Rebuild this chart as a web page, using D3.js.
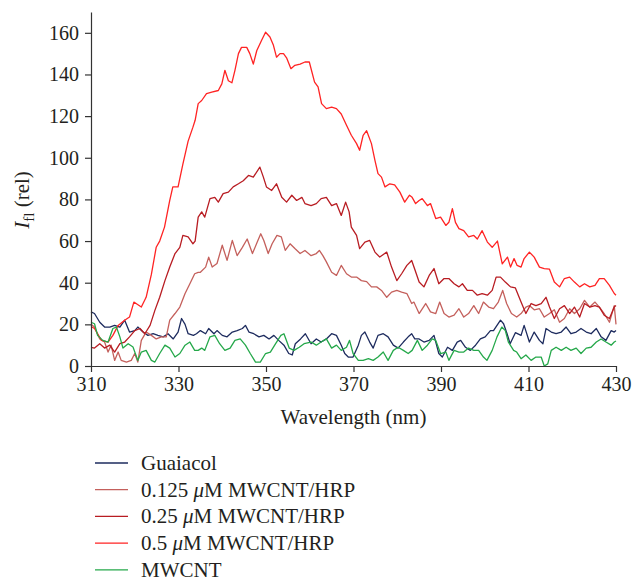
<!DOCTYPE html>
<html>
<head>
<meta charset="utf-8">
<script src="https://cdn.jsdelivr.net/npm/d3@7"></script>
<style>
  body { margin: 0; background: #fff; }
  svg text { font-family: "Liberation Serif", "DejaVu Serif", serif; fill: #231f20; }
</style>
</head>
<body>
<div id="chart"></div>
<script>
var width = 633, height = 577;

// wavelength (nm) / intensity pairs
var wlGuaiacol = [310,310.8,312,313.1,314.3,315.4,316.6,317.7,318.8,320,320.7,321.9,323,324.2,325.3,326.5,327.6,328.8,329.9,330.7,331.5,332.2,333.4,334.1,335,336.2,336.9,338.1,338.8,340,341.1,342.3,343.4,344.6,345.3,346.1,347.2,348.4,349.5,350.7,351.8,352.9,354.1,355.2,356,356.7,357.9,359,360.3,361.5,362.6,363.8,365,366.1,367.2,368,368.8,369.9,371.1,371.8,372.6,373.7,374.5,375.6,376.8,377.9,379.1,380.2,381.4,382.5,383.3,384,385,386.1,387.3,388.4,389.5,390.3,391.5,392.6,393.7,394.5,395.6,396.7,397.9,399,400.1,401.3,402,402.8,403.6,404.3,405.1,405.8,407,408.3,409,410.2,411.3,412.5,413.3,414,415.2,416.3,417.5,418.6,419.7,420.9,422,423.2,424.3,425.5,426.6,427.7,428.9,429.6,430];
var valGuaiacol = [26,25.2,21,18.7,18.7,19.5,18.7,22,16.3,17,18.7,16.3,14.7,15.5,14.7,14,15.5,13,16.3,22.8,20,15.5,14.7,15.5,17,15.5,18,15.5,17,14.7,14,16.3,17,18,19.5,16.3,15.5,14,14.7,13,14.7,12.3,10,6,5.3,10.7,13,15.5,10.7,13,11.5,13,15.5,14.7,10,6,4.3,4.3,10,14.7,16.3,11.5,8.6,14.7,15.5,14,10,8.6,11.5,14,15.5,13,13,11.5,12.3,14.7,6,4.3,9,7.5,11.5,12.3,9,7.5,10,13,14,17,17,19.5,22,20.3,15.5,10.7,16,14.7,19.5,11.5,16.3,12.3,10.7,18,16.3,15.5,16.3,18.7,15.5,16.3,18,16.3,15.5,18,14,12.3,17,16.3,17];

var wl0125 = [310,310.8,312,313.1,313.9,314.6,315.4,316.2,316.9,318.1,319.2,320,320.7,321.5,322.6,323.8,324.9,326.1,327.2,328,329.2,330.3,331.5,332.6,333.7,334.5,335,336.2,336.9,337.7,338.8,340,341.1,342.3,343.4,344.6,345.7,346.9,348,348.8,349.5,350.5,351.4,352.5,353.5,354.4,355.5,356.6,357.8,358.9,360.3,361.5,362.2,363,363.8,365,366.1,367.2,368.4,369.5,370.7,371.8,373,374.1,375.3,376.4,377.6,378.7,379.9,381,382.2,383.3,383.8,385,386.5,387.6,388.8,389.7,390.7,391.8,393,394.1,395.2,396.3,397.5,398.6,399.7,400.9,402,403.1,404.1,405,406.1,407.3,408.3,409.4,410.2,411.3,412.5,413.6,414.8,415.9,417.1,418.2,419.4,420.5,421.7,422.8,424,425.2,426.2,427.3,428.5,429.6,430];
var val0125 = [20,18.7,13,11.5,6.7,10,2.7,6.7,2.7,1.9,2.7,6,1.9,12.3,16.3,14.7,13,14,14,22,25.2,28.3,34.8,39.5,44.3,45,45,47.5,52.3,47.5,49.2,58,50.7,60.3,53,57,61,54,59.5,63.5,60.3,54,58.7,62.7,62,55.5,58.7,56.4,54,55.5,53,54,55.5,53,50,45,43.5,48.3,44.3,42.7,42.7,41,40.5,38,38,36.3,33,35.5,36.3,35.5,34.8,30,30.7,25.2,30,26,25.2,30.7,25.2,23.5,24.4,27.5,23.5,25.2,29,25.2,30.7,28.3,27.5,30.7,36.3,30,25.2,23.5,25.2,28.3,29,27,27.5,23.5,25.2,27,21,22.8,27.5,25.2,27.5,31.5,28.3,30.7,28.3,25.2,21,29,20];

var wl025 = [310,310.8,312,313.1,314.3,315.4,316.6,317.7,318.8,320,321.2,322.3,323.5,324.6,325.7,326.9,328,329.2,330.3,331,332.2,333.3,333.8,334.5,335.3,336,337.2,338.3,339.1,340.2,341.4,342.5,343.7,344.8,346,347.1,348.6,349.4,350.1,351.3,352.4,353.6,354.7,355.9,357,358.2,358.9,360.3,361.5,362.6,363.8,365,366.1,367.2,368.2,369,369.5,370.7,371.4,372.6,373.7,374.9,376,377.6,378.7,379.9,381,382.2,383.3,384,385,386.1,387.3,388.4,389.5,390.7,391.8,393,394.1,394.9,396,397.2,398.3,399.4,400.6,401.7,402.6,403.6,404.7,405.9,407,408.3,409.4,410.6,411.7,412.9,414,414.8,415.9,417.1,418.2,419.4,420.5,421.7,422.8,424,425.2,426.2,427.3,428.5,429.6,430];
var val025 = [9,8.6,10.7,8.6,10,6.7,10.7,11.5,14,17,18,15.5,19.5,26.7,33,41,47.5,54,57,62.7,62,58.7,60,71.5,74,71.5,80.4,81,78.7,82.8,83.5,86,87.5,89,91.5,90.7,95.5,90.7,86,84.3,87.5,81,78.7,82,79.5,81,78,77,78,80.4,81,77,78,72.3,78.7,74,66.7,62.7,56.4,59.5,60.3,54.7,52.3,54.7,47.5,41,44.3,48.3,50.7,46.5,40.3,38,43.5,46.8,39.5,42,42,39.5,38,39.5,36.3,36.3,34,34.8,34,36.3,42.7,42.7,40.3,38,37.5,30.7,25.2,30,29,30,33,28.3,22.8,27.5,29,25.2,28.3,23.5,30,28.3,29,28.3,24.4,22.8,28.3,29];

var wl05 = [310,310.8,312.4,313.9,315,316.2,317.7,318.8,319.8,321.5,322.6,323.8,324.9,325.7,326.8,328,328.7,329.9,331,332.2,333.3,333.8,334.5,335.3,336.4,337.6,339.1,339.9,340.6,341.4,342.2,342.9,343.7,344.4,345.6,346.3,347.1,347.9,349,349.9,350.9,351.7,352.4,353.2,354,354.7,355.7,356.6,357.8,358.9,359.9,361.1,361.9,362.7,363.8,365,366.1,367.2,368.4,369.5,370.7,371.4,372.2,373,374.1,374.9,375.6,376.4,377.2,378.3,379.4,380.6,381.7,382.8,383.4,384.2,385,385.7,386.9,387.6,388.8,389.9,391.1,391.8,392.6,393.3,394.1,395.2,396.3,397.5,398.3,399.4,400.6,401.7,402.9,404,405.2,405.9,406.7,407.4,408.3,409,410.2,411.3,412.5,413.6,414.8,415.9,417.1,418.2,419.4,420.5,421.7,422.8,424,425.2,426.2,427.3,428.5,429.6,430];
var val05 = [19,18,12.3,11.5,14.7,19.5,22,23.5,30.7,28.3,33,44,57,60,66.7,79.5,86,86,97,108,114.7,118,126,127.5,130.8,131.5,132.3,135.5,142,137,136,142,150,153,153,150,145,151.5,156.4,160.3,158,154,148.3,150,150,148,142.8,144.4,145,146,146,136.3,134,126,123.6,124.3,123.6,121,115.6,110.8,106.8,103.6,110.8,113,106.8,98.8,92.4,90.7,86,87.5,87,83.5,78.7,82,81,78,79.5,80.4,77,78,70.8,71.5,67.5,69,75.6,69,66,65,62,62.7,61,65,59.5,57,60,49,52.3,47.5,51.6,48.3,47.5,51.6,54.7,52.3,47.5,46.8,46.5,40.3,38,42,42.7,40.3,38,39.5,38,38.7,42,42,38.7,34.8,34];

var wlMwcnt = [310,310.8,311.5,312.7,313.9,315,315.8,316.6,317.3,318.5,319.6,320.7,321.5,322.6,323.8,324.6,325.7,326.9,328,329.2,330.3,331.5,332.6,333.7,334.5,335.3,336,337.2,338.3,339.4,340.6,341.8,342.9,344.1,345.3,346.4,347.6,348.7,349.9,351,352.2,353.4,354.1,355.3,356.4,357.6,358.7,360.3,361.5,362.6,363.8,365,366.1,367.2,368.4,369.1,369.9,371.1,372.2,373.4,374.5,375.6,376.8,377.9,379.1,380.2,381.4,382.5,383.4,384.6,385.7,386.9,388,388.8,389.9,391.1,391.8,393,394.1,395.2,396.3,397.5,398.6,399.7,400.5,401.7,402.8,403.9,404.7,405.4,406.6,407.3,408.3,409.4,410.6,411.7,412.9,413.6,414.4,415.2,416.3,417.5,418.6,419.7,420.9,422,423.2,424.3,425.5,426.6,427.7,428.9,429.6,430];
var valMwcnt = [21,20.3,14.7,12.3,11.5,18,18.7,14,8.6,10.7,9.1,2.7,6.7,7.5,2.7,1.9,6,10,8.6,4.3,6,10,11.5,7.5,7.5,8.6,7.5,14,14.7,10.7,7.5,8.6,12.3,13,10,6,1.9,1.9,6,6.7,10.7,14.7,15.5,8.6,7.5,9,10.7,11.5,10,11.5,13,8.6,10,7.5,9,12.3,6,2.7,2.7,3.5,2.7,4.3,6.7,2.7,7.5,9,7.5,6,7.5,12.3,7.5,10,13,12.3,6,6.7,2.7,7.5,6.7,6.7,8.6,7.5,7.5,4.3,2.7,7.5,14,18.7,17,11.5,7.5,6.7,3.5,5.3,2.7,4.3,4.3,0,1,7.5,9,7.5,9,7.5,8.6,6,8.6,9,11.5,13,11.5,10,11.5,12];

var seriesNames = ["Guaiacol", "0.125 \u03bcM MWCNT/HRP", "0.25 \u03bcM MWCNT/HRP", "0.5 \u03bcM MWCNT/HRP", "MWCNT"];
var seriesColors = ["#1d2b5e", "#c4605c", "#b81c22", "#ff2323", "#25a84a"];
var seriesX = [wlGuaiacol, wl0125, wl025, wl05, wlMwcnt];
var seriesY = [valGuaiacol, val0125, val025, val05, valMwcnt];

var xTicks = [310, 330, 350, 370, 390, 410, 430];
var yTicks = [0, 20, 40, 60, 80, 100, 120, 140, 160];

var margin = {left: 91, top: 12};
var plotW = 525, plotH = 354;

var svg = d3.select("#chart").append("svg")
    .attr("width", width)
    .attr("height", height);

var x = d3.scaleLinear().domain([310, 430]).range([margin.left, margin.left + plotW]);
var y = d3.scaleLinear().domain([0, 170]).range([margin.top + plotH, margin.top]);

var line = d3.line()
    .x(function(d) { return x(d[0]); })
    .y(function(d) { return y(d[1]); });

// lines
var lines = svg.append("g");
seriesNames.forEach(function(name, i) {
    var pts = seriesX[i].map(function(w, j) { return [w, seriesY[i][j]]; });
    lines.append("path")
        .datum(pts)
        .attr("d", line)
        .attr("fill", "none")
        .attr("stroke", seriesColors[i])
        .attr("stroke-width", 1.3)
        .attr("stroke-linejoin", "round");
});

// axes
var xAxis = svg.append("g")
    .attr("transform", "translate(0," + y(0) + ")")
    .call(d3.axisBottom(x).tickValues(xTicks).tickSize(6).tickSizeOuter(0).tickPadding(5));

var yAxis = svg.append("g")
    .attr("transform", "translate(" + x(310) + ",0)")
    .call(d3.axisLeft(y).tickValues(yTicks).tickSize(6).tickSizeOuter(0).tickPadding(6));

[xAxis, yAxis].forEach(function(a) {
    a.select(".domain").attr("stroke", "#333").attr("stroke-width", 1.2);
    a.selectAll(".tick line").attr("stroke", "#333").attr("stroke-width", 1.2);
    a.selectAll(".tick text")
        .style("font-family", "'Liberation Serif', serif")
        .style("font-size", "20px")
        .attr("fill", "#231f20");
});

// axis titles
svg.append("text")
    .attr("x", x(370))
    .attr("y", 424)
    .attr("text-anchor", "middle")
    .style("font-size", "21px")
    .text("Wavelength (nm)");

var yl = svg.append("text")
    .attr("transform", "translate(29,200) rotate(-90)")
    .attr("text-anchor", "middle")
    .style("font-size", "21px");
yl.append("tspan").style("font-style", "italic").text("I");
yl.append("tspan").attr("dy", 5).style("font-size", "15px").text("fl");
yl.append("tspan").attr("dy", -5).text(" (rel)");

// legend
var legend = svg.append("g");
seriesNames.forEach(function(name, i) {
    var ly = 463 + i * 26.7;
    legend.append("line")
        .attr("x1", 95).attr("x2", 128)
        .attr("y1", ly).attr("y2", ly)
        .attr("stroke", seriesColors[i])
        .attr("stroke-width", 1.3);
    var t = legend.append("text")
        .attr("x", 141)
        .attr("y", ly + 7)
        .style("font-size", "21px");
    var parts = name.split("\u03bc");
    if (parts.length > 1) {
        t.append("tspan").text(parts[0]);
        t.append("tspan").style("font-style", "italic").text("\u03bc");
        t.append("tspan").text(parts[1]);
    } else {
        t.text(name);
    }
});
</script>
</body>
</html>
